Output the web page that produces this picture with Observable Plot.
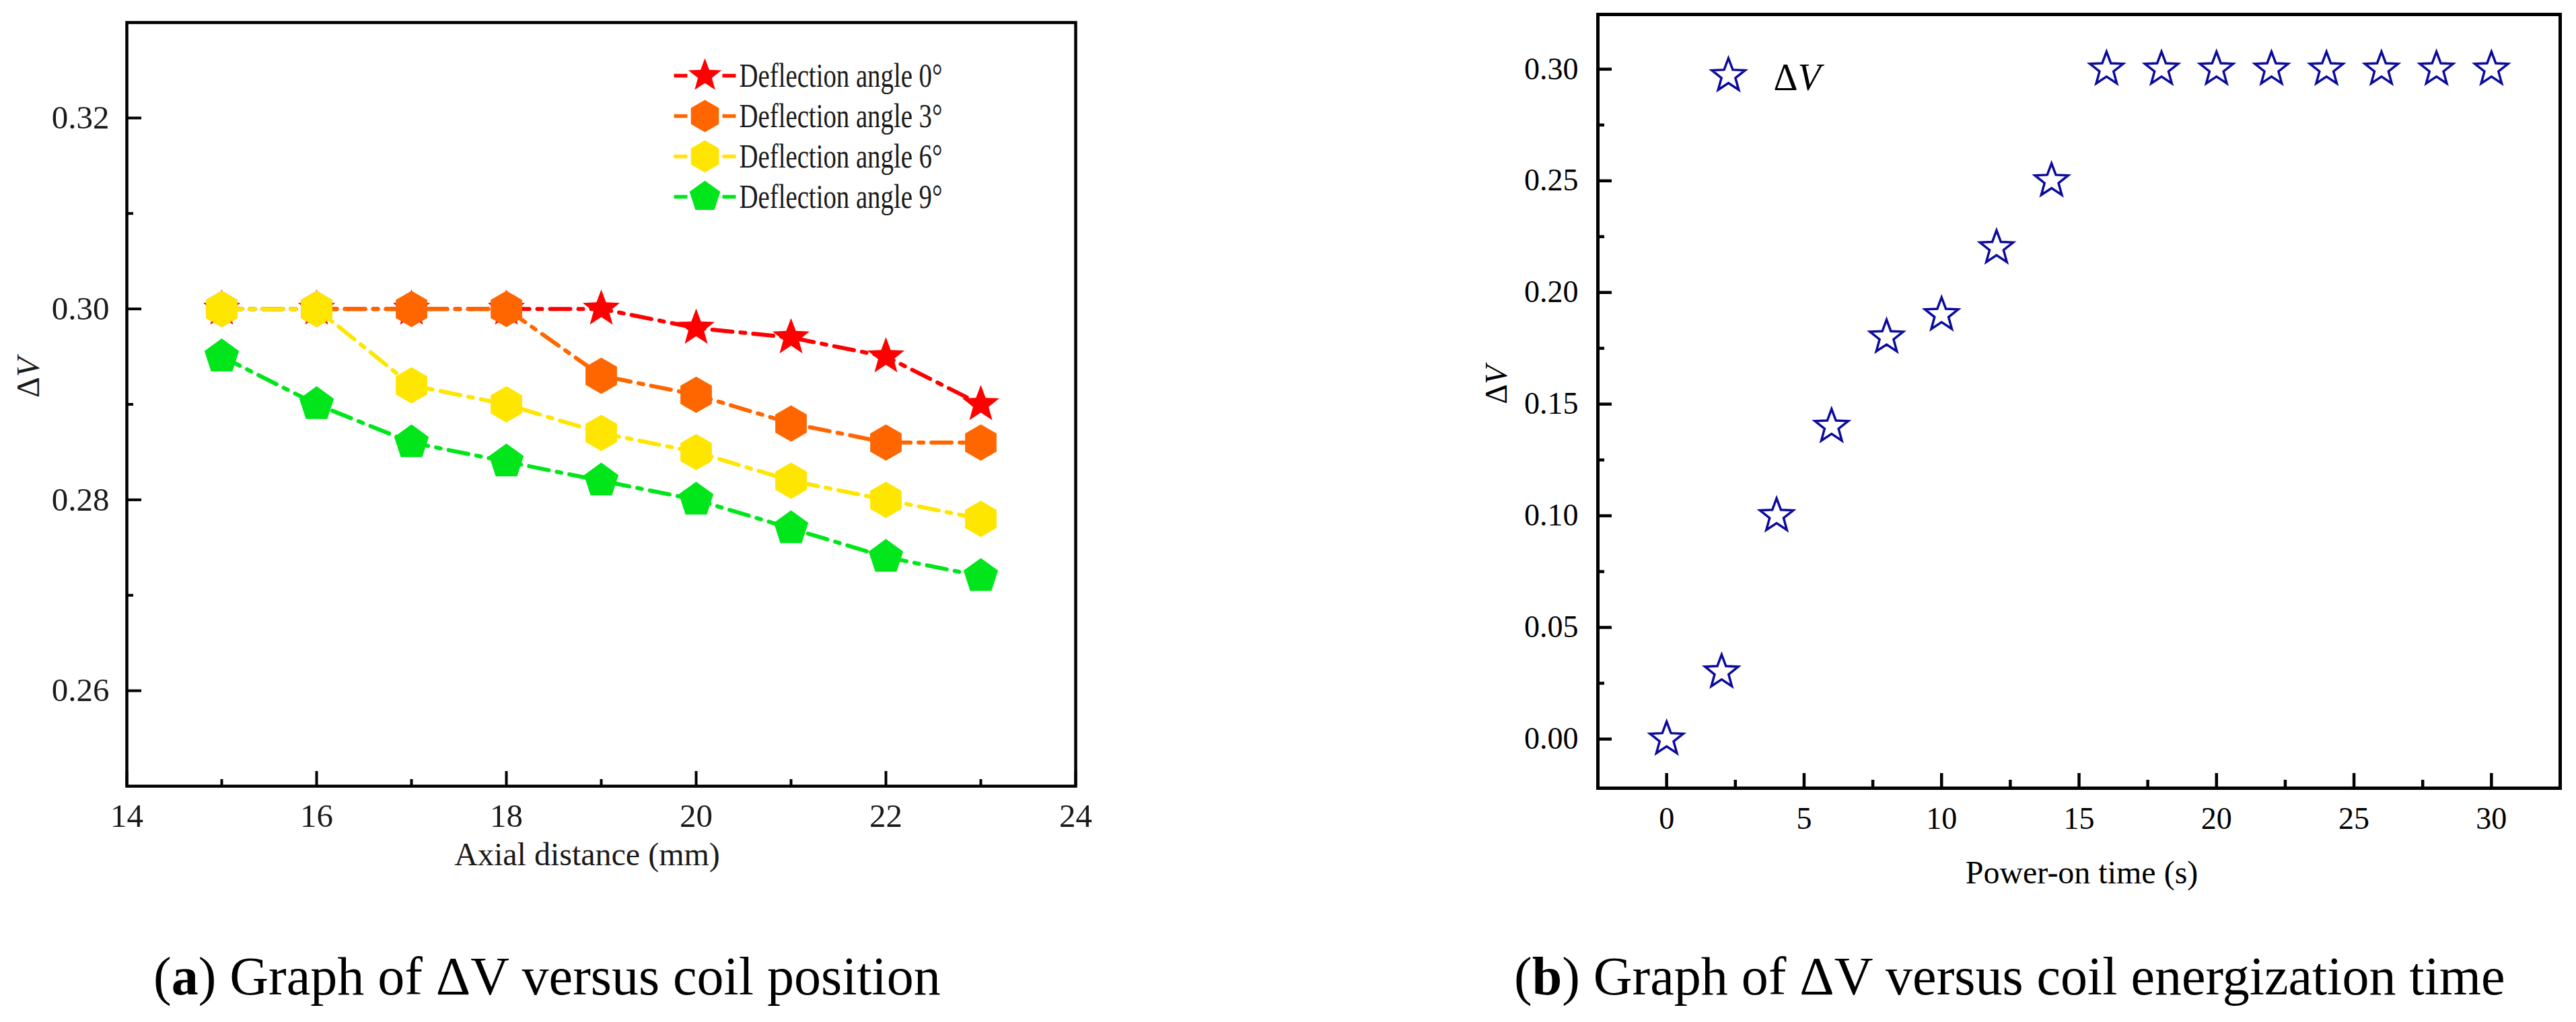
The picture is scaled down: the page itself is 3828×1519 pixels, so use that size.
<!DOCTYPE html>
<html>
<head>
<meta charset="utf-8">
<script src="https://cdn.jsdelivr.net/npm/d3@7"></script>
<script src="https://cdn.jsdelivr.net/npm/@observablehq/plot@0.6"></script>
<style>
  html, body { margin: 0; padding: 0; background: #fff; }
  #page { position: relative; width: 3828px; height: 1519px; background: #fff; overflow: hidden; }
  .panel { position: absolute; top: 0; }
  .cap { position: absolute; font-family: "Liberation Serif", "Times New Roman", serif; font-size: 80px; line-height: 1; color: #000; white-space: nowrap; }
</style>
</head>
<body>
<div id="page">
  <div id="left" class="panel" style="left:0px"></div>
  <div id="right" class="panel" style="left:2150px"></div>
  <div class="cap" style="left:228px; top:1411px">(<b>a</b>) Graph of ΔV versus coil position</div>
  <div class="cap" style="left:2250px; top:1411px">(<b>b</b>) Graph of ΔV versus coil energization time</div>
</div>
<script>
// ---------- data: panel (a) ----------
const axialDistance = [15, 16, 17, 18, 19, 20, 21, 22, 23];
const angle0 = [0.300, 0.300, 0.300, 0.300, 0.300, 0.298, 0.297, 0.295, 0.290];
const angle3 = [0.300, 0.300, 0.300, 0.300, 0.293, 0.291, 0.288, 0.286, 0.286];
const angle6 = [0.300, 0.300, 0.292, 0.290, 0.287, 0.285, 0.282, 0.280, 0.278];
const angle9 = [0.295, 0.290, 0.286, 0.284, 0.282, 0.280, 0.277, 0.274, 0.272];
const seriesLabels = ["Deflection angle 0°", "Deflection angle 3°", "Deflection angle 6°", "Deflection angle 9°"];
const xTicksA = [14, 16, 18, 20, 22, 24];
const xMinorA = [15, 17, 19, 21, 23];
const yTicksA = [0.26, 0.28, 0.30, 0.32];
const yMinorA = [0.27, 0.29, 0.31];

// ---------- data: panel (b) ----------
const powerOnTime = [0, 2, 4, 6, 8, 10, 12, 14, 16, 18, 20, 22, 24, 26, 28, 30];
const deltaV = [0.00, 0.03, 0.10, 0.14, 0.18, 0.19, 0.22, 0.25, 0.30, 0.30, 0.30, 0.30, 0.30, 0.30, 0.30, 0.30];
const xTicksB = [0, 5, 10, 15, 20, 25, 30];
const xMinorB = [2.5, 7.5, 12.5, 17.5, 22.5, 27.5];
const yTicksB = [0.00, 0.05, 0.10, 0.15, 0.20, 0.25, 0.30];
const yMinorB = [0.025, 0.075, 0.125, 0.175, 0.225, 0.275];

// ---------- styles ----------
const seriesColors = ["#ff0000", "#ff6600", "#ffe600", "#00e61a"];
const FONT = "'Liberation Serif', 'Times New Roman', serif";

function polySym(n, inner) {
  return {
    draw(ctx, size) {
      const R = Math.sqrt(size / Math.PI);
      const k = inner ? 2 * n : n;
      for (let i = 0; i < k; i++) {
        const a = -Math.PI / 2 + i * 2 * Math.PI / k;
        const rr = inner && i % 2 ? R * inner : R;
        const px = rr * Math.cos(a), py = rr * Math.sin(a);
        if (i === 0) ctx.moveTo(px, py); else ctx.lineTo(px, py);
      }
      ctx.closePath();
    }
  };
}
const starSym = polySym(5, 0.42);
const hexSym = polySym(6, 0);
const pentSym = polySym(5, 0);
const hlineSym = { draw(ctx, size) { const W = Math.sqrt(size / Math.PI); ctx.moveTo(-W, 0); ctx.lineTo(W, 0); } };
const seriesSymbols = [starSym, hexSym, hexSym, pentSym];
const seriesR = [29, 27, 27, 27];

function postProcess(svg) {
  svg.querySelectorAll("text").forEach(t => {
    if (t.textContent === "ΔV") {
      t.textContent = "Δ";
      const ts = document.createElementNS("http://www.w3.org/2000/svg", "tspan");
      ts.setAttribute("font-style", "italic");
      ts.textContent = "V";
      t.appendChild(ts);
    } else if (t.textContent.startsWith("Deflection")) {
      t.setAttribute("textLength", 302);
      t.setAttribute("lengthAdjust", "spacingAndGlyphs");
    }
  });
  return svg;
}

// ---------- panel (a) ----------
{
  const W = 1700, H = 1340, mL = 188, mR = 102, mT = 33, mB = 172;
  const iW = W - mL - mR, iH = H - mT - mB;
  const seriesValues = [angle0, angle3, angle6, angle9];
  const marks = [];
  seriesValues.forEach((vals, i) => {
    const rows = axialDistance.map((x, j) => ({x, y: vals[j]}));
    marks.push(Plot.line(rows, {x: "x", y: "y", stroke: seriesColors[i], strokeWidth: 6, strokeDasharray: "30,12,7,12"}));
    marks.push(Plot.dot(rows, {x: "x", y: "y", symbol: seriesSymbols[i], r: seriesR[i], fill: seriesColors[i], stroke: "none"}));
  });
  // legend
  seriesLabels.forEach((lab, i) => {
    const dy = 79 + 60 * i;
    marks.push(Plot.dot([lab], {frameAnchor: "top-left", dx: 859, dy, symbol: hlineSym, r: 46, stroke: seriesColors[i], strokeWidth: 5.5, strokeDasharray: "20,52", fill: "none"}));
    marks.push(Plot.dot([lab], {frameAnchor: "top-left", dx: 859, dy, symbol: seriesSymbols[i], r: seriesR[i] - 3, fill: seriesColors[i], stroke: "none"}));
    marks.push(Plot.text([lab], {text: d => d, frameAnchor: "top-left", dx: 910, dy, textAnchor: "start", lineAnchor: "middle", fontSize: 51, fill: "#1a1a1a"}));
  });
  // ticks
  marks.push(Plot.tickX(xTicksA, {x: d => d, stroke: "black", strokeWidth: 4, insetTop: iH - 22}));
  marks.push(Plot.tickX(xMinorA, {x: d => d, stroke: "black", strokeWidth: 4, insetTop: iH - 10}));
  marks.push(Plot.tickY(yTicksA, {y: d => d, stroke: "black", strokeWidth: 4, insetRight: iW - 22}));
  marks.push(Plot.tickY(yMinorA, {y: d => d, stroke: "black", strokeWidth: 4, insetRight: iW - 10}));
  marks.push(Plot.axisX({ticks: xTicksA, tickSize: 0, tickPadding: 26, tickFormat: d => String(d), label: null, fontSize: 49, fill: "#1a1a1a"}));
  marks.push(Plot.axisY({ticks: yTicksA, tickSize: 0, tickPadding: 26, tickFormat: d3.format(".2f"), label: null, fontSize: 49, fill: "#1a1a1a"}));
  marks.push(Plot.text(["Axial distance (mm)"], {text: d => d, frameAnchor: "bottom", dx: -21, dy: 117, fontSize: 48, fill: "#1a1a1a"}));
  marks.push(Plot.text(["ΔV"], {text: d => d, frameAnchor: "left", dx: -146, dy: -10, rotate: -90, fontSize: 48, fill: "#1a1a1a"}));
  marks.push(Plot.frame({stroke: "black", strokeWidth: 4.5}));

  const svg = Plot.plot({
    width: W, height: H, marginLeft: mL, marginRight: mR, marginTop: mT, marginBottom: mB,
    style: {fontFamily: FONT, fontSize: "48px", background: "white", color: "black"},
    x: {domain: [14, 24]},
    y: {domain: [0.25, 0.33]},
    marks
  });
  document.getElementById("left").appendChild(postProcess(svg));
}

// ---------- panel (b) ----------
{
  const W = 1678, H = 1340, mL = 224, mR = 24, mT = 21, mB = 169;
  const iW = W - mL - mR, iH = H - mT - mB;
  const rows = powerOnTime.map((x, j) => ({x, y: deltaV[j]}));
  const navy = "#0a0a9c";
  const marks = [
    Plot.dot(rows, {x: "x", y: "y", symbol: starSym, r: 26, fill: "white", stroke: navy, strokeWidth: 3.5}),
    Plot.dot(["ΔV"], {frameAnchor: "top-left", dx: 194, dy: 91, symbol: starSym, r: 26, fill: "white", stroke: navy, strokeWidth: 3.5}),
    Plot.text(["ΔV"], {text: d => d, frameAnchor: "top-left", dx: 261, dy: 95, textAnchor: "start", lineAnchor: "middle", fontSize: 56, fill: "black"}),
    Plot.tickX(xTicksB, {x: d => d, stroke: "black", strokeWidth: 4.5, insetTop: iH - 22}),
    Plot.tickX(xMinorB, {x: d => d, stroke: "black", strokeWidth: 4.5, insetTop: iH - 12}),
    Plot.tickY(yTicksB, {y: d => d, stroke: "black", strokeWidth: 4.5, insetRight: iW - 21}),
    Plot.tickY(yMinorB, {y: d => d, stroke: "black", strokeWidth: 4.5, insetRight: iW - 10}),
    Plot.axisX({ticks: xTicksB, tickSize: 0, tickPadding: 28, tickFormat: d => String(d), label: null, fontSize: 46}),
    Plot.axisY({ticks: yTicksB, tickSize: 0, tickPadding: 29, tickFormat: d3.format(".2f"), label: null, fontSize: 46}),
    Plot.text(["Power-on time (s)"], {text: d => d, frameAnchor: "bottom", dx: 4, dy: 141, fontSize: 48, fill: "black"}),
    Plot.text(["ΔV"], {text: d => d, frameAnchor: "left", dx: -150, dy: 4, rotate: -90, fontSize: 46, fill: "black"}),
    Plot.frame({stroke: "black", strokeWidth: 5})
  ];
  const svg = Plot.plot({
    width: W, height: H, marginLeft: mL, marginRight: mR, marginTop: mT, marginBottom: mB,
    style: {fontFamily: FONT, fontSize: "46px", background: "white", color: "black"},
    x: {domain: [-2.5, 32.5]},
    y: {domain: [-0.022, 0.3245]},
    marks
  });
  document.getElementById("right").appendChild(postProcess(svg));
}
</script>
</body>
</html>
